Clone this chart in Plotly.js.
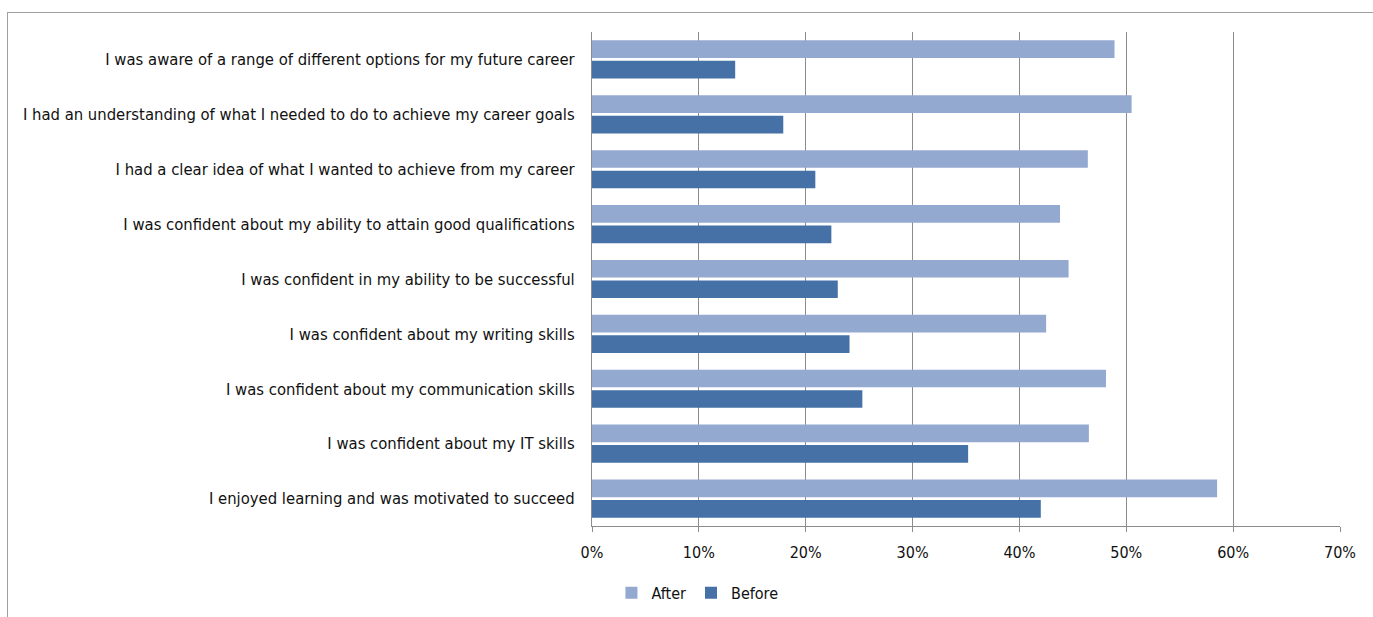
<!DOCTYPE html>
<html>
<head>
<meta charset="utf-8">
<script src="https://cdn.plot.ly/plotly-3.0.1.min.js"></script>
<style>
  html, body { margin: 0; padding: 0; width: 1373px; height: 617px; overflow: hidden; background: #fff; }
  #frame { position: absolute; left: 7px; top: 12px; width: 1400px; height: 700px; border: 1px solid #a0a0a0; }
  #chart { position: absolute; left: 0; top: 0; width: 1373px; height: 617px; }
</style>
</head>
<body>
<div id="frame"></div>
<div id="chart"></div>
<script>
const categories = [
  "I was aware of a range of different options for my future career",
  "I had an understanding of what I needed to do to achieve my career goals",
  "I had a clear idea of what I wanted to achieve from my career",
  "I was confident about my ability to attain good qualifications",
  "I was confident in my ability to be successful",
  "I was confident about my writing skills",
  "I was confident about my communication skills",
  "I was confident about my IT skills",
  "I enjoyed learning and was motivated to succeed"
];
const afterValues  = [0.489, 0.505, 0.464, 0.438, 0.446, 0.425, 0.481, 0.465, 0.585];
const beforeValues = [0.134, 0.179, 0.209, 0.224, 0.230, 0.241, 0.253, 0.352, 0.420];
const tickValues = [0, 0.1, 0.2, 0.3, 0.4, 0.5, 0.6, 0.7];
const tickLabels = ["0%", "10%", "20%", "30%", "40%", "50%", "60%", "70%"];

const labelFont = { family: "'DejaVu Sans Condensed', 'Liberation Sans', sans-serif", size: 16.5, color: "#111" };
const tickFont = { family: "'DejaVu Sans Condensed', 'Liberation Sans', sans-serif", size: 16, color: "#111" };

const traces = [
  { type: "bar", orientation: "h", name: "After", y: categories, x: afterValues,
    marker: { color: "#94A9D0" }, hoverinfo: "x+y" },
  { type: "bar", orientation: "h", name: "Before", y: categories, x: beforeValues,
    marker: { color: "#4571A6" }, hoverinfo: "x+y" }
];

const layout = {
  width: 1373, height: 617,
  margin: { l: 592, r: 33, t: 32, b: 91, autoexpand: false },
  paper_bgcolor: "rgba(0,0,0,0)",
  plot_bgcolor: "rgba(0,0,0,0)",
  barmode: "group",
  bargap: 0.253,
  bargroupgap: 0.137,
  font: labelFont,
  xaxis: {
    range: [0, 0.7], tickvals: tickValues, ticktext: tickLabels,
    showgrid: true, gridcolor: "#8c8c8c", gridwidth: 1,
    showline: true, linecolor: "#8c8c8c", linewidth: 1,
    ticks: "outside", ticklen: 5, tickcolor: "#8c8c8c",
    ticklabelstandoff: 7,
    zeroline: false, tickfont: tickFont, fixedrange: true
  },
  yaxis: {
    autorange: "reversed", type: "category",
    showline: true, linecolor: "#8c8c8c", linewidth: 1,
    ticks: "", ticklabelstandoff: 13,
    showgrid: false, tickfont: labelFont, fixedrange: true
  },
  legend: {
    orientation: "h", x: 0.026, xanchor: "left", y: -0.101, yanchor: "top",
    font: tickFont, traceorder: "normal", itemwidth: 30
  },
  showlegend: true
};

Plotly.newPlot("chart", traces, layout, { displayModeBar: false, staticPlot: true });
</script>
</body>
</html>
